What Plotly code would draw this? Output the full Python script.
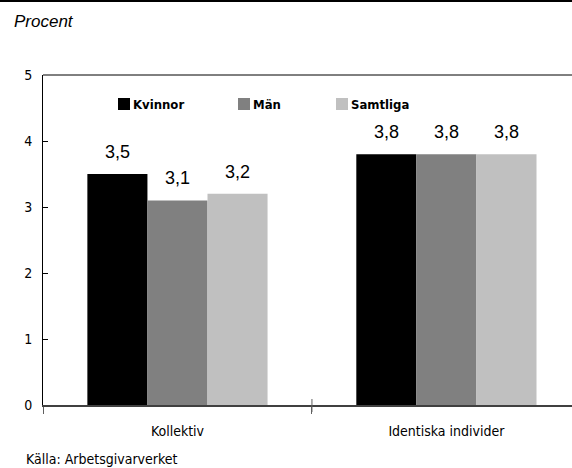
import plotly.graph_objects as go

categories = ["Kollektiv", "Identiska individer"]
series_names = ["Kvinnor", "Män", "Samtliga"]
kvinnor = [3.5, 3.8]
man = [3.1, 3.8]
samtliga = [3.2, 3.8]

colors = ["#000000", "#808080", "#c0c0c0"]
narrow = "DejaVu Sans Condensed, Roboto, sans-serif"
BARGAP = 0.33

# plot area in px: left 43, top 75, bottom 405, right 572
L, T, B, W = 43, 75, 405, 529
H = B - T


def px_x(x):
    return (x - L) / W


def px_y(y):
    return (B - y) / H


fig = go.Figure()
for name, vals, col in zip(series_names, [kvinnor, man, samtliga], colors):
    fig.add_trace(go.Bar(
        x=categories, y=vals, name=name,
        marker=dict(color=col, line=dict(width=0)),
    ))

shapes = [
    dict(type="line", xref="paper", yref="paper", x0=0, x1=1, y0=1, y1=1,
         line=dict(color="black", width=1)),
    dict(type="line", xref="paper", yref="paper", x0=px_x(0), x1=1,
         y0=px_y(1), y1=px_y(1), line=dict(color="black", width=2)),
    # crossing tick between the two groups
    dict(type="line", xref="x", yref="paper", x0=0.5, x1=0.5, y0=px_y(412), y1=px_y(399),
         line=dict(color="#606060", width=1)),
]
annotations = [
    dict(text="<i>Procent</i>", xref="paper", yref="paper", x=px_x(12), y=px_y(21),
         xanchor="left", yanchor="middle", showarrow=False,
         font=dict(family="Liberation Sans", size=17, color="black")),
    dict(text="Källa: Arbetsgivarverket", xref="paper", yref="paper", x=px_x(24),
         y=px_y(459), xanchor="left", yanchor="middle", showarrow=False,
         font=dict(family=narrow, size=14, color="black")),
]

# value labels above each bar
bw = (1 - BARGAP) / len(series_names)
for k, vals in enumerate([kvinnor, man, samtliga]):
    for i, v in enumerate(vals):
        annotations.append(dict(
            text=("%.1f" % v).replace(".", ","), x=i + (k - 1) * bw, y=v,
            xref="x", yref="y", xanchor="center", yanchor="bottom", yshift=10,
            showarrow=False, font=dict(family="Liberation Sans", size=18, color="black")))

# hand-placed legend, like the original
legend_x = [118, 238, 336]
for name, col, lx in zip(series_names, colors, legend_x):
    shapes.append(dict(type="rect", xref="paper", yref="paper",
                       x0=px_x(lx), x1=px_x(lx + 12), y0=px_y(110), y1=px_y(98),
                       fillcolor=col, line=dict(width=0)))
    annotations.append(dict(text="<b>%s</b>" % name, xref="paper", yref="paper",
                            x=px_x(lx + 13), y=px_y(104), xanchor="left", yanchor="middle",
                            showarrow=False,
                            font=dict(family=narrow, size=13, color="black")))

fig.update_layout(
    width=572, height=468,
    margin=dict(l=L, r=572 - L - W, t=T, b=468 - B),
    paper_bgcolor="white", plot_bgcolor="white",
    barmode="group", bargap=BARGAP, bargroupgap=0,
    font=dict(family=narrow, size=14, color="black"),
    showlegend=False,
    xaxis=dict(range=[-0.5, 1.467], showline=True, linecolor="#404040", linewidth=2,
               ticks="outside", tickson="boundaries", ticklen=7, tickcolor="#606060",
               tickfont=dict(family=narrow, size=14), showgrid=False, fixedrange=True,
               ticklabelstandoff=12),
    yaxis=dict(range=[0, 5], dtick=1, showline=True, linecolor="black", linewidth=1,
               ticks="inside", ticklen=5, tickcolor="black", showgrid=False, zeroline=False,
               tickfont=dict(family=narrow, size=14), ticklabelstandoff=7),
    shapes=shapes,
    annotations=annotations,
)

fig.write_html("out.html", config={"displayModeBar": False},
               post_script="document.body.style.margin='0';")
